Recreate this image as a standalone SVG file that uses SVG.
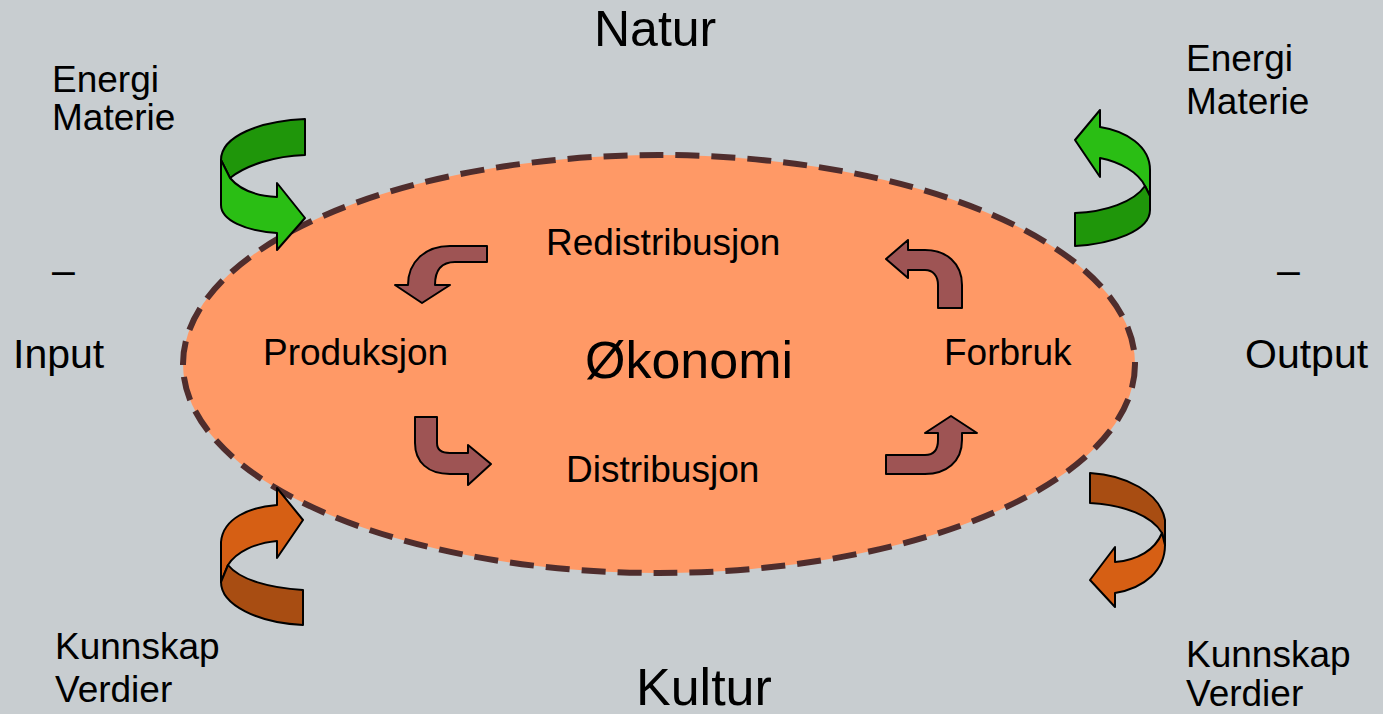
<svg xmlns="http://www.w3.org/2000/svg" width="1383" height="714" viewBox="0 0 1383 714">
<style>
text{font-family:"Liberation Sans",Arial,sans-serif;fill:#000}
.lbl{font-size:37px}
.big{font-size:52px}
.io{font-size:41px}
.gl{fill:#2ABE14;stroke:#000;stroke-width:2;stroke-linejoin:round}
.gd{fill:#1F960A;stroke:#000;stroke-width:2;stroke-linejoin:round}
.ol{fill:#D65F14;stroke:#000;stroke-width:2;stroke-linejoin:round}
.od{fill:#A84D12;stroke:#000;stroke-width:2;stroke-linejoin:round}
.br{fill:#9E5454;stroke:#000;stroke-width:2;stroke-linejoin:round}
</style>
<rect width="1383" height="714" fill="#C8CDD0"/>
<g id="okonomi">
<ellipse cx="659" cy="364" rx="476" ry="209" fill="#FF9966" stroke="#4F2D2D" stroke-width="6" stroke-dasharray="24 12"/>
<text class="big" x="585" y="378" font-size="53">Økonomi</text>
</g>
<g id="natur"><text class="big" x="594" y="46" style="font-size:50px">Natur</text></g>
<g id="kultur"><text class="big" x="636" y="705">Kultur</text></g>
<g id="input"><text class="io" x="52" y="284">–</text><text class="io" x="13" y="368">Input</text></g>
<g id="output"><text class="io" x="1277" y="284">–</text><text class="io" x="1245" y="368">Output</text></g>
<g id="energi-left"><text class="lbl" x="52" y="92">Energi</text><text class="lbl" x="52" y="130">Materie</text></g>
<g id="energi-right"><text class="lbl" x="1186" y="71">Energi</text><text class="lbl" x="1186" y="114">Materie</text></g>
<g id="kunnskap-left"><text class="lbl" x="55" y="659">Kunnskap</text><text class="lbl" x="55" y="702">Verdier</text></g>
<g id="kunnskap-right"><text class="lbl" x="1186" y="667">Kunnskap</text><text class="lbl" x="1186" y="706">Verdier</text></g>
<g id="produksjon"><text class="lbl" x="263" y="365">Produksjon</text></g>
<g id="redistribusjon"><text class="lbl" x="546" y="255">Redistribusjon</text></g>
<g id="distribusjon"><text class="lbl" x="566" y="482">Distribusjon</text></g>
<g id="forbruk"><text class="lbl" x="944" y="365">Forbruk</text></g>
<g id="connectors">
<path class="gd" d="M305,119 L305,155 C275,156 246,165 230,178 L221,160 C221,136 260,121 305,119 Z"/>
<path class="gl" d="M221,160 L230,178 C240,190 258,196 277,197 L277,183 L305,218 L277,250 L277,233 C245,231 221,220 221,205 Z"/>
<path class="gl" d="M1100,127 L1100,110 L1075,140 L1100,177 L1100,158 C1120,162 1138,172 1145,186 L1150,196 L1150,170 C1150,146 1126,131 1100,127 Z"/>
<path class="gd" d="M1145,186 L1150,196 L1150,210 C1150,231 1112,244 1075,246 L1075,213 C1105,212 1134,202 1145,186 Z"/>
<path class="ol" d="M277,505 L277,488 L303,520 L277,558 L277,541 C255,543 236,552 228,565 L221,582 L221,542 C223,518 250,507 277,505 Z"/>
<path class="od" d="M228,565 C240,580 270,588 303,590 L303,625 C258,623 221,605 221,582 Z"/>
<path class="od" d="M1090,473 L1090,503 C1125,505 1152,516 1162,533 L1165,545 L1165,520 C1160,492 1125,475 1090,473 Z"/>
<path class="ol" d="M1162,533 C1155,550 1138,560 1115,562 L1115,547 L1090,580 L1115,607 L1115,593 C1145,588 1165,570 1165,545 Z"/>
<path class="br" d="M487,246 L487,262 L455,262 C442,262 435,270 435,285 L450,285 L422,303 L395,285 L408,285 C408,262 425,246 450,246 Z"/>
<path class="br" d="M938,308 L962,308 L962,285 C962,263 946,250 925,250 L908,250 L908,240 L886,259 L908,278 L908,270 L925,270 C933,270 938,276 938,285 Z"/>
<path class="br" d="M415,417 L437,417 L437,443 C437,450 442,453 450,453 L468,453 L468,445 L491,464 L468,485 L468,474 L450,474 C428,474 415,462 415,443 Z"/>
<path class="br" d="M886,455 L925,455 C933,455 938,450 938,440 L938,433 L925,433 L951,416 L977,433 L962,433 L962,440 C962,462 946,474 925,474 L886,474 Z"/>
</g>
</svg>
